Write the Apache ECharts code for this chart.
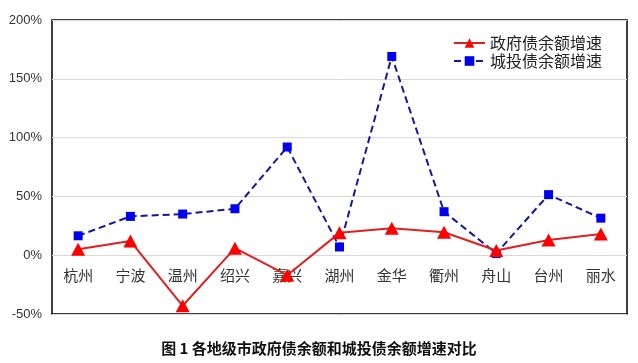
<!DOCTYPE html>
<html><head><meta charset="utf-8">
<script src="https://cdn.jsdelivr.net/npm/echarts@6/dist/echarts.min.js"></script>
<style>html,body{margin:0;padding:0;background:#fff}#c{width:638px;height:363px}</style>
</head><body><div id="c"></div>
<script>
var categories = ['杭州','宁波','温州','绍兴','嘉兴','湖州','金华','衢州','舟山','台州','丽水'];
var govGrowth = [5, 12, -43, 6, -17, 19, 23, 19.5, 4, 13, 18];
var ctGrowth = [16.5, 33, 35, 39.5, 92, 7, 169, 37, 1.5, 51.5, 31.5];
var yTicks = [-50, 0, 50, 100, 150, 200];
var seriesNames = ['政府债余额增速','城投债余额增速'];
var caption = '图 1 各地级市政府债余额和城投债余额增速对比';

var chart = echarts.init(document.getElementById('c'), null, {renderer:'canvas'});
var gridTop = 20, gridBottom = 49, H = 363;
var plotH = H - gridTop - gridBottom;
var zeroOffset = -plotH * (0 - yTicks[0]) / (yTicks[yTicks.length-1] - yTicks[0]);
chart.setOption({
  animation:false,
  backgroundColor:'#fff',
  title:{text:caption,left:'center',top:336,textStyle:{fontFamily:'Noto Sans CJK SC',fontSize:15,fontWeight:'bold',color:'#111'}},
  grid:{left:52,right:11,top:gridTop,bottom:gridBottom,show:true,borderColor:'#000',borderWidth:1.5,containLabel:false},
  legend:{orient:'vertical',left:448,top:30,itemWidth:31,itemHeight:12,itemGap:2,
    textStyle:{fontFamily:'Noto Sans CJK SC',fontSize:16,color:'#222'},data:seriesNames},
  xAxis:{type:'category',data:categories,boundaryGap:true,offset:zeroOffset,
    axisLine:{show:false,onZero:false},axisTick:{show:false},
    axisLabel:{fontFamily:'Noto Sans CJK SC',fontSize:15,color:'#333',margin:13}},
  yAxis:{type:'value',min:yTicks[0],max:yTicks[yTicks.length-1],interval:50,
    axisLine:{show:false},axisTick:{show:false},
    axisLabel:{formatter:'{value}%',fontFamily:'Liberation Sans',fontSize:13,color:'#333',margin:10},
    splitLine:{lineStyle:{color:'#d9d9d9',width:1}}},
  series:[
    {name:seriesNames[0],type:'line',data:govGrowth,symbol:'triangle',symbolSize:[14,13],
      lineStyle:{color:'#e02020',width:2},itemStyle:{color:'#ff0000'},z:3},
    {name:seriesNames[1],type:'line',data:ctGrowth,symbol:'rect',symbolSize:9,
      lineStyle:{color:'#16169e',width:2,type:[7,4]},itemStyle:{color:'#0000ee'},z:2}
  ]
});
</script></body></html>
